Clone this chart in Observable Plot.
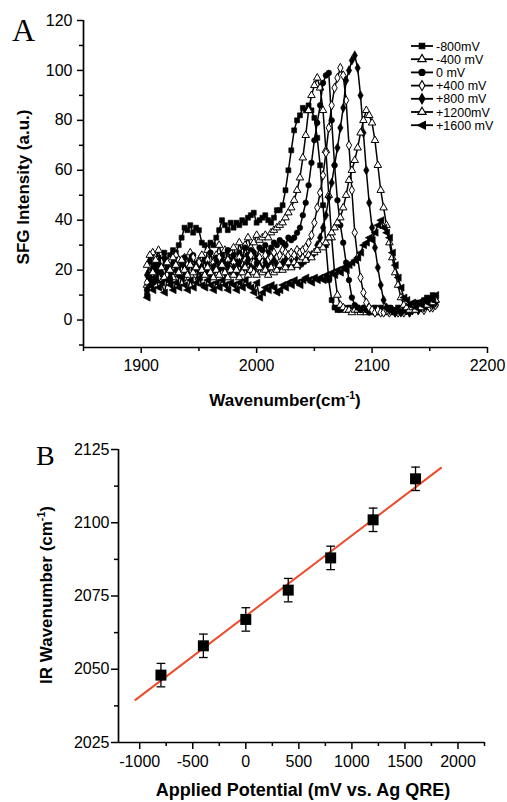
<!DOCTYPE html>
<html><head><meta charset="utf-8">
<script src="https://cdn.jsdelivr.net/npm/d3@7"></script>
<script src="https://cdn.jsdelivr.net/npm/@observablehq/plot@0.6"></script>
<style>
html,body{margin:0;padding:0;background:#fff;}
#wrap{position:relative;width:507px;height:802px;overflow:hidden;}
.panel{position:absolute;left:0;}
#overlay{position:absolute;left:0;top:0;pointer-events:none;}
</style></head><body><div id="wrap"><div class="panel" id="pa" style="top:0px"></div><div class="panel" id="pb" style="top:400px"></div></div>
<script>
// ---------- Panel A data ----------
const wavenumbers = [
1905,1907.5,1910,1912.5,1915,1917.5,1920,1922.5,1925,1927.5,
1930,1932.5,1935,1937.5,1940,1942.5,1945,1947.5,1950,1952.5,
1955,1957.5,1960,1962.5,1965,1967.5,1970,1972.5,1975,1977.5,
1980,1982.5,1985,1987.5,1990,1992.5,1995,1997.5,2000,2002.5,
2005,2007.5,2010,2012.5,2015,2017.5,2020,2022.5,2025,2027.5,
2030,2032.5,2035,2037.5,2040,2042.5,2045,2047.5,2050,2052.5,
2055,2057.5,2060,2062.5,2065,2067.5,2070,2072.5,2075,2077.5,
2080,2082.5,2085,2087.5,2090,2092.5,2095,2097.5,2100,2102.5,
2105,2107.5,2110,2112.5,2115,2117.5,2120,2122.5,2125,2127.5,
2130,2132.5,2135,2137.5,2140,2142.5,2145,2147.5,2150,2152.5,
2155];
const v_m800 = [
10,16,22,20,25,23,27,24,26,28,
27,30,33,37,36,38,35,37,36,31,
30,29,31,30,33,36,40,38,36,39,
37,39,38,40,39,41,42,43,39,40,
41,42,40,39,41,44,44,46,52,60,
68,76,80,82,85,84,86,84,81,73,
62,46,30,16,8,5,4,4,5,4,
5,4,4,5,4,4,5,4,4,5,
4,5,4,4,5,4,4,5,4,5,
5,4,6,5,7,6,8,9,8,10,
9];
const v_m400 = [
14,20,27,18,22,16,24,19,21,17,
26,22,19,25,21,27,23,20,24,26,
22,28,24,21,26,30,25,28,24,27,
29,25,31,27,30,33,29,31,34,32,
33,34,33,35,36,37,38,39,41,43,
45,48,52,57,65,74,84,90,94,97,
93,84,68,50,33,19,10,6,5,4,
4,3,4,4,3,4,3,4,4,3,
4,3,4,3,4,4,3,4,3,4,
4,5,4,5,6,5,6,7,6,7,
8];
const v_0 = [
12,18,15,22,19,24,17,21,16,20,
23,18,21,25,19,22,26,20,23,21,
24,20,27,22,25,21,26,23,28,24,
26,23,27,25,29,26,28,27,25,29,
28,30,27,29,31,30,32,31,30,33,
32,33,35,37,42,47,54,63,72,79,
86,95,98,99,80,62,48,38,31,23,
16,9,6,5,4,5,4,3,4,3,
4,3,4,4,3,4,3,4,4,3,
4,4,5,4,5,6,5,6,5,6,
6];
const v_p400 = [
15,22,19,25,17,23,20,18,24,21,
19,24,21,17,22,20,25,18,23,19,
21,24,20,23,19,25,22,20,24,21,
23,20,25,22,24,21,26,23,22,25,
23,26,24,25,27,25,26,28,27,26,
27,26,28,27,28,29,31,34,39,45,
51,58,67,77,86,93,97,101,98,88,
70,52,35,25,17,11,7,5,4,3,
4,3,3,4,3,4,3,3,4,3,
4,3,4,5,4,5,4,6,5,5,
6];
const v_p800 = [
18,24,20,16,22,19,25,21,17,23,
20,18,23,21,19,24,20,22,18,21,
19,22,18,21,24,20,23,19,22,20,
21,19,23,20,22,24,21,20,23,22,
20,23,21,22,24,22,21,23,24,22,
23,22,24,22,23,24,25,26,27,30,
33,37,42,49,55,62,69,77,85,96,
100,104,106,101,90,75,60,47,37,29,
21,14,8,5,4,4,3,4,3,4,
4,3,4,5,4,6,5,6,7,6,
7];
const v_p1200 = [
22,26,19,24,28,21,17,23,20,25,
22,19,24,20,18,22,19,21,17,20,
18,21,19,17,20,18,22,19,17,20,
18,20,17,19,21,18,20,19,18,21,
19,20,18,21,19,20,22,20,21,23,
21,23,22,24,25,24,26,25,27,28,
30,29,31,33,35,37,39,41,45,50,
56,60,64,69,75,80,84,82,79,72,
62,52,45,38,31,25,19,14,9,6,
5,4,5,4,6,5,7,6,8,7,
8];
const v_p1600 = [
9,14,12,17,13,15,11,16,14,12,
15,13,17,14,12,16,13,15,17,14,
13,16,14,12,15,13,16,14,12,15,
14,12,15,13,16,14,13,11,15,9,
11,13,12,14,13,11,12,14,13,15,
14,16,15,14,16,17,16,15,17,16,
17,16,18,17,19,18,20,19,21,20,
22,23,24,25,27,30,31,33,32,35,
38,40,37,35,33,27,22,17,13,9,
8,6,7,5,7,6,8,7,9,8,
10];
const legendLabels = ["-800mV", "-400 mV", "0 mV", "+400 mV", "+800 mV", "+1200mV", "+1600 mV"];
const xMajorA = [1900, 2000, 2100, 2200];
const xMinorA = [1850, 1950, 2050, 2150];
const yMajorA = [0, 20, 40, 60, 80, 100, 120];
const yMinorA = [-10, 10, 30, 50, 70, 90, 110];

// ---------- Panel B data ----------
const potentials = [-800, -400, 0, 400, 800, 1200, 1600];
const irWavenumber = [2048, 2058, 2067, 2077, 2088, 2101, 2115];
const irError = [4, 4, 4, 4, 4, 4, 4];
const fitRange = [-1040, 1840];
const xMajorB = [-1000, -500, 0, 500, 1000, 1500, 2000];
const xMinorB = [-750, -250, 250, 750, 1250, 1750, 2250];
const yMajorB = [2025, 2050, 2075, 2100, 2125];
const yMinorB = [2037.5, 2062.5, 2087.5, 2112.5];

// ---------- symbols ----------
const triLeft = {draw(ctx, size) {
  const h = Math.sqrt(size / 0.9);
  ctx.moveTo(-0.75 * h, 0); ctx.lineTo(0.6 * h, -0.68 * h); ctx.lineTo(0.6 * h, 0.68 * h); ctx.closePath();
}};
const capSym = {draw(ctx, size) {
  const w = Math.sqrt(size) / 2;
  ctx.moveTo(-w, 0); ctx.lineTo(w, 0);
}};
const seriesValues = [v_m800, v_m400, v_0, v_p400, v_p800, v_p1200, v_p1600];
const seriesSymbols = [d3.symbolSquare, d3.symbolTriangle, d3.symbolCircle, d3.symbolDiamond, d3.symbolDiamond, d3.symbolTriangle, triLeft];
const seriesFill = ["black", "white", "black", "white", "black", "white", "black"];

const FONT = "'Liberation Sans', Arial, Helvetica, sans-serif";

// ---------- Panel A ----------
const marksA = [
  Plot.ruleX([1850], {strokeWidth: 1.7}),
  Plot.ruleY([-11], {strokeWidth: 1.7}),
  Plot.axisX({ticks: xMajorA, tickSize: 6, tickPadding: 6, strokeWidth: 1.5, label: null, tickFormat: d => String(d)}),
  Plot.axisX({ticks: xMinorA, tickSize: 4, strokeWidth: 1.5, label: null, tickFormat: () => ""}),
  Plot.axisY({ticks: yMajorA, tickSize: 6, tickPadding: 5, strokeWidth: 1.5, label: null, tickFormat: d => String(d)}),
  Plot.axisY({ticks: yMinorA.filter(d => d >= -11), tickSize: 4, strokeWidth: 1.5, label: null, tickFormat: () => ""})
];
seriesValues.forEach((vals, k) => {
  const rows = wavenumbers.map((w, i) => ({w, v: vals[i]}));
  marksA.push(Plot.line(rows, {x: "w", y: "v", stroke: "black", strokeWidth: 1.5}));
  marksA.push(Plot.dot(rows, {x: "w", y: "v", symbol: seriesSymbols[k], r: 2.8,
    fill: seriesFill[k], stroke: "black", strokeWidth: seriesFill[k] === "white" ? 1 : 0.6}));
});
const plotA = Plot.plot({
  width: 507, height: 395,
  marginLeft: 83, marginRight: 20, marginTop: 20, marginBottom: 48,
  x: {domain: [1850, 2200]},
  y: {domain: [-11, 120]},
  style: {fontSize: "16px", fontFamily: FONT, color: "black", background: "transparent", overflow: "visible"},
  marks: marksA
});
document.getElementById("pa").appendChild(plotA);

// ---------- Panel B ----------
const ptsB = potentials.map((p, i) => ({p, w: irWavenumber[i], lo: irWavenumber[i] - irError[i], hi: irWavenumber[i] + irError[i]}));
const fit = (() => {
  const mx = d3.mean(potentials), my = d3.mean(irWavenumber);
  const sxy = d3.sum(potentials, (x, i) => (x - mx) * (irWavenumber[i] - my));
  const sxx = d3.sum(potentials, x => (x - mx) ** 2);
  const slope = sxy / sxx, icpt = my - slope * mx;
  return fitRange.map(x => ({x, y: icpt + slope * x}));
})();
const plotB = Plot.plot({
  width: 507, height: 402,
  marginLeft: 118, marginRight: 23, marginTop: 49, marginBottom: 60,
  x: {domain: [-1200, 2250]},
  y: {domain: [2025, 2125]},
  style: {fontSize: "16px", fontFamily: FONT, color: "black", background: "transparent", overflow: "visible"},
  marks: [
    Plot.ruleX([-1200], {strokeWidth: 1.7}),
    Plot.ruleY([2025], {strokeWidth: 1.7}),
    Plot.axisX({ticks: xMajorB, tickSize: 7, tickPadding: 6, strokeWidth: 1.5, label: null, tickFormat: d => String(d)}),
    Plot.axisX({ticks: xMinorB, tickSize: 4, strokeWidth: 1.5, label: null, tickFormat: () => ""}),
    Plot.axisY({ticks: yMajorB, tickSize: 7, tickPadding: 2, strokeWidth: 1.5, label: null, tickFormat: d => String(d)}),
    Plot.axisY({ticks: yMinorB, tickSize: 4, strokeWidth: 1.5, label: null, tickFormat: () => ""}),
    Plot.line(fit, {x: "x", y: "y", stroke: "#ef4b2a", strokeWidth: 2}),
    Plot.ruleX(ptsB, {x: "p", y1: "lo", y2: "hi", stroke: "black", strokeWidth: 1.3}),
    Plot.dot(ptsB, {x: "p", y: "hi", symbol: capSym, r: 4.9, fill: "none", stroke: "black", strokeWidth: 1.3}),
    Plot.dot(ptsB, {x: "p", y: "lo", symbol: capSym, r: 4.9, fill: "none", stroke: "black", strokeWidth: 1.3}),
    Plot.dot(ptsB, {x: "p", y: "w", symbol: "square", r: 6.2, fill: "black", stroke: "none"})
  ]
});
document.getElementById("pb").appendChild(plotB);

// ---------- overlay: panel letters, axis titles, legend ----------
const svg = d3.select("#wrap").append("svg").attr("id", "overlay")
  .attr("width", 507).attr("height", 802).attr("viewBox", "0 0 507 802");
const serif = "'Liberation Serif', 'Times New Roman', serif";
svg.append("text").attr("x", 12).attr("y", 41).attr("font-family", serif).attr("font-size", 32).text("A");
svg.append("text").attr("x", 36).attr("y", 465).attr("font-family", serif).attr("font-size", 28).text("B");

function title(x, y, rot, size, parts) {
  const t = svg.append("text").attr("font-family", FONT).attr("font-weight", "bold")
    .attr("font-size", size).attr("text-anchor", "middle")
    .attr("transform", `translate(${x},${y}) rotate(${rot})`);
  parts.forEach(p => {
    const ts = t.append("tspan").text(p.t);
    if (p.sup) ts.attr("font-size", size * 0.62).attr("dy", -size * 0.4);
    if (p.down) ts.attr("dy", size * 0.4);
  });
}
title(29, 187, -90, 17, [{t: "SFG Intensity (a.u.)"}]);
title(285, 406, 0, 17, [{t: "Wavenumber(cm"}, {t: "-1", sup: true}, {t: ")", down: true}]);
title(52, 595, -90, 17, [{t: "IR Wavenumber (cm"}, {t: "-1", sup: true}, {t: ")", down: true}]);
title(303, 796, 0, 18, [{t: "Applied Potential (mV vs. Ag QRE)"}]);

const leg = svg.append("g");
legendLabels.forEach((lab, i) => {
  const y = 46 + i * 13.2;
  leg.append("line").attr("x1", 411).attr("x2", 433).attr("y1", y).attr("y2", y).attr("stroke", "black").attr("stroke-width", 1.8);
  leg.append("path").attr("d", d3.symbol().type(seriesSymbols[i]).size(30)())
    .attr("transform", `translate(422,${y})`).attr("fill", seriesFill[i]).attr("stroke", "black").attr("stroke-width", 1.1);
  leg.append("text").attr("x", 436).attr("y", y + 4.5).attr("font-family", FONT).attr("font-size", 12.5).text(lab);
});
</script></body></html>
